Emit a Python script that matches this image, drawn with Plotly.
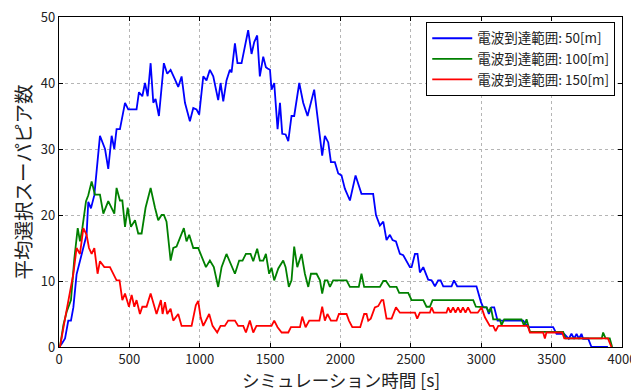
import plotly.graph_objects as go

# ---- data ----
t_50 = [0, 20, 43, 66, 85, 102, 125, 161, 196, 208, 227, 251, 291, 327, 350, 374, 393, 409, 433, 469,
        492, 551, 568, 592, 611, 630, 651, 670, 686, 710, 745, 769, 793, 823, 847, 871, 895, 930, 954, 977,
        996, 1025, 1048, 1072, 1096, 1131, 1148, 1167, 1190, 1214, 1226, 1250, 1268, 1297, 1321, 1344, 1368, 1387, 1408, 1427,
        1451, 1470, 1482, 1499, 1510, 1529, 1553, 1570, 1586, 1610, 1629, 1652, 1671, 1707, 1735, 1766, 1813, 1842, 1870, 1889,
        1913, 1932, 1960, 1984, 2007, 2031, 2067, 2107, 2130, 2149, 2232, 2252, 2280, 2304, 2327, 2351, 2370, 2394, 2422, 2446,
        2493, 2505, 2529, 2547, 2564, 2588, 2623, 2647, 2671, 2694, 2711, 2730, 2789, 2806, 2829, 2966, 2998, 3014, 3038, 3054,
        3073, 3092, 3116, 3298, 3334, 3511, 3535, 3589, 3622, 3641, 3660, 3677, 3694, 3712, 3724, 3760, 3783, 3900]
v_50 = [0, 0.5, 1.3, 4, 4, 6, 11, 14, 17, 22, 21, 23, 32, 30, 27, 32, 30, 33, 33, 37,
        36, 36, 38.6, 38, 40, 38, 43, 37, 37.6, 35, 43, 41.4, 42, 40.6, 39.4, 41, 37, 34.2, 36.2, 36,
        35.2, 41, 40.4, 42, 41, 37.4, 40, 37.2, 40.4, 42, 41.6, 46, 43, 43, 45.7, 48, 44.4, 46.2, 47.2, 41,
        44, 42.4, 42.2, 42, 39, 40, 33, 37, 32.3, 32.2, 31.2, 35, 35, 40, 37, 35, 39, 34, 29, 32,
        31, 28, 28, 26.3, 26, 24, 22.2, 26, 24.5, 23.2, 23.2, 20, 18.4, 19, 16.2, 17, 16.2, 16, 14.1, 13.9,
        12.1, 12.1, 14.1, 14.1, 11.3, 12.1, 10.2, 10.1, 9.2, 10.1, 10.1, 9.2, 9.2, 10.1, 9.2, 9.2, 6.8, 6, 6, 5,
        6, 6, 4, 4, 3, 3, 2, 2, 1.25, 2, 1.25, 2, 1.25, 2, 1.25, 1.25, 0, 0]

t_100 = [0, 7, 31, 54, 85, 109, 133, 149, 166, 192, 208, 232, 255, 291, 315, 350, 393, 409, 433, 450,
         469, 488, 511, 540, 563, 587, 615, 651, 682, 705, 729, 745, 764, 793, 812, 835, 887, 906, 925, 954,
         989, 1013, 1044, 1072, 1100, 1131, 1155, 1190, 1214, 1250, 1280, 1304, 1328, 1361, 1380, 1408, 1427, 1451, 1470, 1493,
         1510, 1529, 1558, 1593, 1610, 1633, 1652, 1671, 1693, 1723, 1747, 1771, 1790, 1830, 1854, 1870, 1889, 1907, 1925, 1948,
         2043, 2067, 2130, 2149, 2168, 2280, 2304, 2323, 2351, 2398, 2417, 2481, 2505, 2588, 2611, 2635, 2654, 2943, 2962, 3038,
         3054, 3068, 3085, 3132, 3144, 3163, 3286, 3305, 3322, 3346, 3582, 3599, 3856, 3866, 3883, 3913, 3930]
v_100 = [0, 0, 3.3, 5.3, 7.1, 13.4, 18, 16, 18, 22.1, 23, 25.1, 23.1, 23.1, 20.2, 22.1, 20.2, 24.1, 22.2, 22.2,
         18.2, 21.1, 18.2, 19.2, 17.2, 17.2, 21.1, 24.1, 21.1, 19.2, 20, 20, 19, 13.1, 15, 15.2, 18, 16, 17, 15,
         15, 13.8, 12.1, 13.1, 12.1, 9.1, 12.1, 14.1, 13, 11.1, 13.1, 13.1, 14.1, 14.1, 13, 14.9, 13.1, 13.1, 14.1, 11.1,
         12, 10.1, 11.9, 13.1, 12.1, 9.1, 10.1, 15.2, 12.1, 14.1, 11.1, 9.1, 11.1, 11.1, 10.1, 8.1, 10.1, 10.1, 9.1, 10.1,
         10.1, 9.1, 9.1, 11.1, 9.1, 9.1, 10, 10, 9.1, 9.1, 8.2, 8.2, 7.1, 7.1, 6.1, 6.1, 7.1, 7.1, 6.1, 6,
         5.3, 6, 4.2, 4.2, 3.3, 4.2, 4.2, 3.2, 4.2, 2.3, 2.3, 1.3, 1.3, 2.2, 1.3, 1.3, 0]

t_150 = [0, 7, 43, 78, 102, 125, 149, 173, 196, 213, 232, 251, 274, 291, 322, 362, 386, 409, 430, 450,
         469, 497, 516, 535, 551, 575, 592, 622, 651, 677, 693, 724, 736, 753, 769, 793, 812, 847, 871, 942,
         972, 989, 1006, 1025, 1067, 1091, 1124, 1148, 1178, 1202, 1250, 1273, 1309, 1328, 1356, 1380, 1403, 1510, 1529, 1553,
         1582, 1629, 1648, 1712, 1728, 1752, 1778, 1850, 1870, 1889, 1907, 1932, 1972, 1989, 2043, 2060, 2084, 2140, 2168, 2185,
         2197, 2215, 2244, 2268, 2292, 2304, 2327, 2363, 2394, 2422, 2529, 2545, 2564, 2635, 2647, 2663, 2753, 2765, 2782, 2800,
         2817, 2835, 2853, 2870, 2888, 2906, 2925, 2975, 3002, 3026, 3061, 3085, 3102, 3121, 3330, 3346, 3440, 3452, 3463, 3575,
         3590, 3900, 3925]
v_150 = [0, 0, 4.3, 8.1, 11.1, 15, 14.1, 18, 17, 15, 14.1, 15, 11.1, 13, 12.1, 12.1, 11.1, 10.1, 10.1, 7.1,
         8.1, 6.1, 7.9, 6.1, 7.1, 5, 6.1, 6.1, 8.1, 6.1, 5, 7.1, 5, 6.8, 5, 5.8, 4, 5, 3.2, 3.2,
         6.3, 7, 4.5, 3.2, 5, 3.2, 2.2, 3.2, 3.2, 4, 4, 3.2, 3.2, 2.2, 4, 2.2, 3.2, 3.2, 4, 3,
         2.2, 2.2, 3, 3, 4.6, 3, 4, 4, 6.1, 4, 5, 4, 4, 5, 5, 4, 3, 3, 5, 5,
         4, 4.3, 6, 6.2, 7.1, 7.1, 4.3, 4.3, 6, 5.2, 5.2, 4.3, 5.2, 5.2, 6, 5.2, 5.2, 6, 5.2, 6,
         5.2, 6, 5.2, 6, 5.2, 6, 5.2, 5.2, 6, 4.5, 3.2, 3.2, 2.4, 3.2, 3.2, 2.2, 2.2, 1.3, 2.2, 2.2,
         1.3, 1.3, 0]

names = ["電波到達範囲: 50[m]", "電波到達範囲: 100[m]", "電波到達範囲: 150[m]"]
colors = ["#0000ff", "#008000", "#ff0000"]
x_ticks = [0, 500, 1000, 1500, 2000, 2500, 3000, 3500, 4000]
y_ticks = [0, 10, 20, 30, 40, 50]
x_title = "シミュレーション時間 [s]"
y_title = "平均選択スーパピア数"

FONT = "Noto Sans CJK JP, DejaVu Sans, sans-serif"

fig = go.Figure()
for t, v, n, c in zip([t_50, t_100, t_150], [v_50, v_100, v_150], names, colors):
    fig.add_trace(go.Scatter(x=t, y=v, mode="lines", name=n,
                             line=dict(color=c, width=1.8), cliponaxis=True))

axis_common = dict(showline=True, linecolor="black", linewidth=1.3, mirror="allticks",
                   ticks="inside", ticklen=4, tickcolor="black", showgrid=True,
                   gridcolor="#b5b5b5", griddash="dot", gridwidth=1, zeroline=False,
                   automargin=False, ticklabeloverflow="allow",
                   tickfont=dict(family=FONT, size=13, color="#222"))

# The page body adds an 8px offset, so margins are compensated accordingly.
fig.update_layout(
    width=639, height=392,
    margin=dict(l=51, r=25, t=9, b=53),
    paper_bgcolor="white", plot_bgcolor="white",
    font=dict(family=FONT, color="#222"),
    xaxis=dict(range=[0, 4000], tickvals=x_ticks, ticklabelstandoff=0, **axis_common),
    yaxis=dict(range=[0, 50], tickvals=y_ticks, ticklabelstandoff=0,
               title=dict(text=y_title, font=dict(family=FONT, size=19.5), standoff=11),
               **axis_common),
    legend=dict(x=0.988, y=0.985, xanchor="right", yanchor="top",
                bordercolor="black", borderwidth=1, bgcolor="white",
                font=dict(family=FONT, size=13.5, color="#222"),
                tracegroupgap=0, itemwidth=40),
    showlegend=True,
)
fig.add_annotation(text=x_title, xref="paper", yref="paper", x=0.5, y=-0.098,
                   xanchor="center", yanchor="middle", showarrow=False, borderpad=0,
                   font=dict(family=FONT, size=17.5, color="#222"))

fig.write_html("out.html")
